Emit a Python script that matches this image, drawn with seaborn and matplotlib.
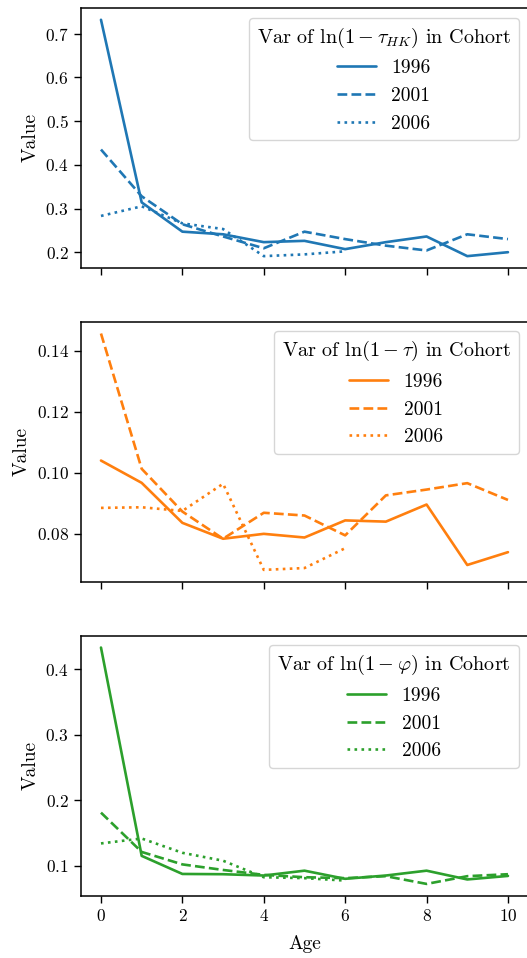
import numpy as np
import pandas as pd
import matplotlib
matplotlib.use("Agg")
import matplotlib.pyplot as plt
import seaborn as sns

# --------------------------
# Data
# --------------------------
ages = list(range(11))
cohorts = ["1996", "2001", "2006"]

# Var of ln(1 - tau_HK)
hk_1996 = [0.732, 0.314, 0.247, 0.241, 0.223, 0.226, 0.207, 0.223, 0.236, 0.191, 0.200]
hk_2001 = [0.435, 0.328, 0.264, 0.236, 0.209, 0.247, 0.230, 0.215, 0.204, 0.241, 0.230]
hk_2006 = [0.283, 0.305, 0.266, 0.253, 0.191, 0.195, 0.202]

# Var of ln(1 - tau)
tau_1996 = [0.1040, 0.0967, 0.0836, 0.0784, 0.0800, 0.0788, 0.0844, 0.0840, 0.0896, 0.0698, 0.0740]
tau_2001 = [0.1456, 0.1013, 0.0873, 0.0784, 0.0869, 0.0860, 0.0795, 0.0926, 0.0945, 0.0966, 0.0911]
tau_2006 = [0.0885, 0.0887, 0.0875, 0.0964, 0.0682, 0.0688, 0.0753]

# Var of ln(1 - phi)
phi_1996 = [0.433, 0.115, 0.0874, 0.087, 0.085, 0.0924, 0.080, 0.085, 0.0924, 0.079, 0.0844]
phi_2001 = [0.181, 0.121, 0.102, 0.0935, 0.086, 0.0824, 0.081, 0.084, 0.0722, 0.084, 0.087]
phi_2006 = [0.134, 0.1415, 0.1197, 0.1076, 0.0824, 0.081, 0.0773]

titles = [
    r"Var of $\ln(1-\tau_{HK})$ in Cohort",
    r"Var of $\ln(1-\tau)$ in Cohort",
    r"Var of $\ln(1-\varphi)$ in Cohort",
]
colors = ["#1f77b4", "#ff7f0e", "#2ca02c"]


def to_frame(series):
    rows = []
    for cohort, vals in zip(cohorts, series):
        for age, v in zip(ages, vals):
            rows.append({"Age": age, "Value": v, "Cohort": cohort})
    return pd.DataFrame(rows)


frames = [
    to_frame([hk_1996, hk_2001, hk_2006]),
    to_frame([tau_1996, tau_2001, tau_2006]),
    to_frame([phi_1996, phi_2001, phi_2006]),
]

# --------------------------
# Style
# --------------------------
sns.set_style("ticks", {"axes.edgecolor": "black", "xtick.color": "black",
                        "ytick.color": "black", "text.color": "black",
                        "axes.labelcolor": "black"})
plt.rcParams["font.family"] = "serif"
plt.rcParams["font.serif"] = ["cmr10", "DejaVu Serif"]
plt.rcParams["mathtext.fontset"] = "cm"
plt.rcParams["axes.formatter.use_mathtext"] = True
plt.rcParams["axes.unicode_minus"] = False

fig = plt.figure(figsize=(5.27, 9.58), dpi=100)
left, width = 0.153, 0.8495
bottoms = [0.7203, 0.3928, 0.065]
height = 0.2714
axes = []
for i, b in enumerate(bottoms):
    ax = fig.add_axes([left, b, width, height], sharex=axes[0] if axes else None)
    axes.append(ax)

dashes = ["", (3.7, 1.6), (1, 1.65)]

for ax, df, title, color in zip(axes, frames, titles, colors):
    sns.lineplot(
        data=df, x="Age", y="Value", style="Cohort", style_order=cohorts,
        dashes=dashes, color=color, linewidth=1.9, ax=ax,
    )
    old = ax.get_legend()
    handles = old.legend_handles
    labels = [t.get_text() for t in old.texts]
    old.remove()
    ax.legend(handles, labels, title=title, loc="upper right",
              fontsize=14, title_fontsize=14.5, edgecolor="0.8")
    ax.set_ylabel("Value", fontsize=14)
    ax.tick_params(labelsize=12.5, length=5, width=1)
    for s in ax.spines.values():
        s.set_linewidth(1.1)

axes[1].set_yticks([0.08, 0.10, 0.12, 0.14])
axes[2].set_yticks([0.1, 0.2, 0.3, 0.4])
axes[0].set_xticks([0, 2, 4, 6, 8, 10])
for ax in axes[:2]:
    ax.tick_params(labelbottom=False)
    ax.set_xlabel("")
axes[2].set_xlabel("Age", fontsize=14, labelpad=8)

fig.savefig("out.png", dpi=100)
